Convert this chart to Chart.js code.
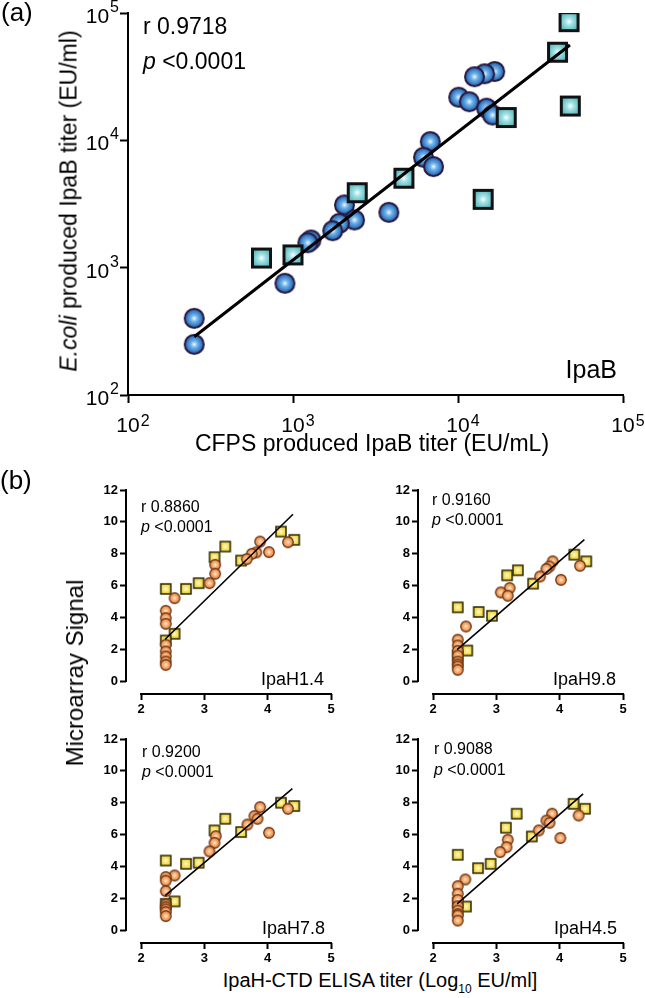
<!DOCTYPE html>
<html>
<head>
<meta charset="utf-8">
<script src="https://cdn.jsdelivr.net/npm/chart.js@4.4.0/dist/chart.umd.min.js"></script>
<style>
  body { margin: 0; background: #fff; }
  #page { position: relative; width: 645px; height: 998px; overflow: hidden;
          font-family: "Liberation Sans", Arial, sans-serif; color: #000; }
  canvas { position: absolute; }
  .t { position: absolute; line-height: 1; white-space: nowrap; color: #000; }
  .rot { transform: translate(-50%, -50%) rotate(-90deg); }
  .ctr { transform: translateX(-50%); }
</style>
</head>
<body>
<div id="page">
  <canvas id="ca" width="645" height="470" style="left:0;top:0"></canvas>
  <canvas id="c1" width="260" height="240" style="left:80px;top:478px"></canvas>
  <canvas id="c2" width="260" height="240" style="left:372px;top:478px"></canvas>
  <canvas id="c3" width="260" height="240" style="left:80px;top:727px"></canvas>
  <canvas id="c4" width="260" height="240" style="left:372px;top:727px"></canvas>

  <div class="t" style="left:1px;top:-1px;font-size:26px">(a)</div>
  <div class="t" style="left:143px;top:15px;font-size:23px">r 0.9718</div>
  <div class="t" style="left:143px;top:50px;font-size:23px"><i>p</i> &lt;0.0001</div>
  <div class="t" style="right:28px;top:357px;font-size:25px">IpaB</div>
  <div class="t ctr" style="left:372px;top:432px;font-size:23px">CFPS produced IpaB titer (EU/mL)</div>
  <div class="t rot" style="left:69px;top:201px;font-size:23px"><i>E.coli</i> produced IpaB titer (EU/ml)</div>

  <div class="t" style="left:0;top:467px;font-size:26px">(b)</div>
  <div class="t rot" style="left:75px;top:673px;font-size:24px">Microarray Signal</div>
  <div class="t ctr" style="left:380px;top:970px;font-size:20px">IpaH-CTD ELISA titer (Log<span style="font-size:12px;position:relative;top:6px;color:#000">10</span> EU/ml]</div>

  <div class="t" style="left:141px;top:499px;font-size:16px">r 0.8860</div>
  <div class="t" style="left:141px;top:519px;font-size:16px"><i>p</i> &lt;0.0001</div>
  <div class="t" style="right:321px;top:670px;font-size:18px">IpaH1.4</div>

  <div class="t" style="left:432px;top:492px;font-size:16px">r 0.9160</div>
  <div class="t" style="left:432px;top:512px;font-size:16px"><i>p</i> &lt;0.0001</div>
  <div class="t" style="right:29px;top:670px;font-size:18px">IpaH9.8</div>

  <div class="t" style="left:142px;top:744px;font-size:16px">r 0.9200</div>
  <div class="t" style="left:142px;top:764px;font-size:16px"><i>p</i> &lt;0.0001</div>
  <div class="t" style="right:320px;top:919px;font-size:18px">IpaH7.8</div>

  <div class="t" style="left:434px;top:741px;font-size:16px">r 0.9088</div>
  <div class="t" style="left:434px;top:762px;font-size:16px"><i>p</i> &lt;0.0001</div>
  <div class="t" style="right:28px;top:919px;font-size:18px">IpaH4.5</div>
</div>

<script>
const FONT = '"Liberation Sans", Arial, sans-serif';

// ---- panel (a): CFPS vs E.coli IpaB titer (EU/ml)
const aTicks = [100, 1000, 10000, 100000];
const aSqX = [47100, 40100, 47900, 19600, 14200, 4700, 2450, 1000, 644];
const aSqY = [85500, 49200, 18600, 15100, 3440, 5040, 3880, 1260, 1190];
const aCiX = [16700, 14500, 12600, 10100, 11700, 14900, 16200, 6790, 6180, 7110,
              3810, 2050, 2360, 1910, 1740, 1285, 1230, 893, 252, 252];
const aCiY = [34700, 33300, 31600, 21800, 20100, 17900, 15800, 9770, 7360, 6220,
              2720, 3110, 2370, 2230, 1950, 1650, 1570, 754, 400, 250];
const aFitX = [252, 47700];
const aFitY = [287, 56100];

// ---- panel (b): ELISA titer (log10) vs microarray signal
const bXTicks = [2, 3, 4, 5];
const bYTicks = [0, 2, 4, 6, 8, 10, 12];

const h14SqX = [4.21, 4.42, 3.33, 3.16, 3.58, 2.91, 2.71, 2.39, 2.53, 2.39];
const h14SqY = [9.39, 8.87, 8.45, 7.78, 7.57, 6.15, 5.79, 5.79, 2.97, 2.55];
const h14CiX = [4.32, 3.88, 4.02, 3.82, 3.75, 3.67, 3.17, 3.17, 3.08, 2.53,
                2.39, 2.39, 2.39, 2.39, 2.39, 2.39, 2.39, 2.39];
const h14CiY = [8.72, 8.76, 8.10, 8.08, 7.99, 7.66, 7.30, 6.74, 6.15, 5.21,
                4.41, 3.95, 3.60, 2.28, 1.86, 1.55, 1.23, 1.02];
const h14FitX = [2.38, 4.40];
const h14FitY = [2.63, 10.48];

const h98SqX = [4.23, 4.42, 3.34, 3.17, 3.58, 2.39, 2.72, 2.93, 2.54, 2.39];
const h98SqY = [7.94, 7.52, 6.96, 6.64, 6.12, 4.63, 4.34, 4.10, 1.92, 1.61];
const h98CiX = [3.89, 3.84, 3.79, 3.69, 4.32, 4.02, 3.21, 3.07, 3.18, 2.52,
                2.39, 2.39, 2.39, 2.39, 2.39, 2.39, 2.39, 2.39];
const h98CiY = [7.52, 7.20, 7.04, 6.57, 7.24, 6.36, 5.84, 5.57, 5.36, 3.43,
                2.60, 2.24, 1.90, 1.60, 1.23, 1.05, 0.92, 0.71];
const h98FitX = [2.38, 4.39];
const h98FitY = [1.97, 8.88];

const h78SqX = [4.21, 4.42, 3.33, 3.16, 3.58, 2.39, 2.71, 2.91, 2.53, 2.39];
const h78SqY = [8.00, 7.79, 6.99, 6.26, 6.16, 4.37, 4.16, 4.23, 1.80, 1.65];
const h78CiX = [3.88, 4.32, 3.79, 3.84, 3.68, 4.02, 3.18, 3.16, 3.08, 2.53,
                2.39, 2.39, 2.39, 2.39, 2.39, 2.39, 2.39, 2.39];
const h78CiY = [7.72, 7.62, 7.16, 6.99, 6.63, 6.11, 5.90, 5.48, 4.94, 3.43,
                3.33, 3.10, 2.45, 1.60, 1.44, 1.30, 1.13, 0.88];
const h78FitX = [2.38, 4.39];
const h78FitY = [2.17, 8.88];

const h45SqX = [4.22, 4.40, 3.32, 3.15, 3.56, 2.39, 2.71, 2.91, 2.52, 2.39];
const h45SqY = [7.93, 7.62, 7.31, 6.43, 5.88, 4.73, 3.89, 4.16, 1.48, 1.71];
const h45CiX = [3.88, 3.79, 3.84, 3.67, 4.30, 4.01, 3.18, 3.16, 3.06, 2.51,
                2.39, 2.39, 2.39, 2.39, 2.39, 2.39, 2.39, 2.39];
const h45CiY = [7.31, 6.88, 6.74, 6.26, 7.20, 5.78, 5.67, 5.21, 4.90, 3.18,
                2.76, 2.28, 1.90, 1.50, 1.23, 1.00, 0.92, 0.60];
const h45FitX = [2.38, 4.37];
const h45FitY = [1.65, 8.56];

const pts = (xs, ys) => xs.map((x, i) => ({ x: x, y: ys[i] }));

// shaded marker sprites (white highlight in the middle)
function sprite(shape, size, lw, stroke, stops) {
  const c = document.createElement('canvas');
  const d = Math.ceil(size + lw + 2);
  c.width = c.height = d;
  const g = c.getContext('2d');
  const m = d / 2, r = size / 2;
  const grad = g.createRadialGradient(m, m, 0, m, m, shape === 'circle' ? r : r * 1.35);
  stops.forEach(s => grad.addColorStop(s[0], s[1]));
  g.fillStyle = grad;
  g.beginPath();
  if (shape === 'circle') g.arc(m, m, r, 0, Math.PI * 2);
  else g.rect(m - r, m - r, size, size);
  g.fill();
  g.lineWidth = lw;
  g.strokeStyle = stroke;
  g.stroke();
  return c;
}

const aCircle = sprite('circle', 19, 2, '#2a1840', [[0, '#f2faff'], [0.35, '#6fb2ea'], [1, '#1a5fae']]);
const aSquare = sprite('square', 18, 3, '#111', [[0, '#ffffff'], [0.3, '#a2e2e4'], [1, '#3ea9b4']]);
const bCircle = sprite('circle', 10.5, 1.3, '#6b3412', [[0, '#fff2e0'], [0.4, '#f8b57e'], [1, '#e9863f']]);
const bSquare = sprite('square', 10, 1.5, '#2b2600', [[0, '#fffce0'], [0.4, '#f8e46a'], [1, '#e6c620']]);

// "10" with a raised exponent for the log axes
const logLabels = {
  id: 'logLabels',
  afterDraw(chart) {
    const { ctx, chartArea } = chart;
    const sx = chart.scales.x, sy = chart.scales.y;
    ctx.save();
    ctx.fillStyle = '#000';
    aTicks.forEach(v => {
      const e = String(Math.round(Math.log10(v)));
      // x axis
      const px = sx.getPixelForValue(v);
      ctx.font = '21px ' + FONT;
      const w = ctx.measureText('10').width;
      ctx.textAlign = 'center';
      ctx.fillText('10', px, chartArea.bottom + 37);
      ctx.font = '16px ' + FONT;
      ctx.textAlign = 'left';
      ctx.fillText(e, px + w / 2 + 1, chartArea.bottom + 31);
      // y axis
      const py = sy.getPixelForValue(v);
      const ew = ctx.measureText(e).width;
      const ex = chartArea.left - 9;
      ctx.textAlign = 'right';
      ctx.fillText(e, ex, py - 1);
      ctx.font = '21px ' + FONT;
      ctx.fillText('10', ex - ew - 1, py + 10);
    });
    ctx.restore();
  }
};

new Chart(document.getElementById('ca'), {
  type: 'scatter',
  data: {
    datasets: [
      { data: pts(aFitX, aFitY), showLine: true, borderColor: '#000', borderWidth: 3, pointRadius: 0, order: 0 },
      { data: pts(aSqX, aSqY), pointStyle: aSquare, pointRadius: 10, order: 1 },
      { data: pts(aCiX, aCiY), pointStyle: aCircle, pointRadius: 10, order: 2 }
    ]
  },
  options: {
    responsive: false,
    animation: false,
    events: [],
    layout: { padding: { left: 0, top: 13, right: 22, bottom: 0 } },
    plugins: { legend: { display: false }, tooltip: { enabled: false } },
    scales: {
      x: {
        type: 'logarithmic', min: 100, max: 100000,
        afterBuildTicks: s => { s.ticks = aTicks.map(v => ({ value: v })); },
        afterFit: s => { s.height = 75; },
        ticks: { display: false },
        grid: { drawOnChartArea: false, tickLength: 8, tickWidth: 2, color: '#000' },
        border: { color: '#000', width: 2 }
      },
      y: {
        type: 'logarithmic', min: 100, max: 100000,
        afterBuildTicks: s => { s.ticks = aTicks.map(v => ({ value: v })); },
        afterFit: s => { s.width = 128; },
        ticks: { display: false },
        grid: { drawOnChartArea: false, tickLength: 8, tickWidth: 2, color: '#000' },
        border: { color: '#000', width: 2 }
      }
    }
  },
  plugins: [logLabels]
});

// GraphPad style axes: lines only over the tick range
const offsetAxes = {
  id: 'offsetAxes',
  afterDraw(chart) {
    const { ctx, chartArea } = chart;
    const sx = chart.scales.x, sy = chart.scales.y;
    ctx.save();
    ctx.strokeStyle = '#000';
    ctx.lineWidth = 2;
    ctx.beginPath();
    ctx.moveTo(sx.getPixelForValue(bXTicks[0]) - 1, chartArea.bottom);
    ctx.lineTo(sx.getPixelForValue(bXTicks[bXTicks.length - 1]) + 1, chartArea.bottom);
    ctx.moveTo(chartArea.left, sy.getPixelForValue(bYTicks[0]) + 1);
    ctx.lineTo(chartArea.left, sy.getPixelForValue(bYTicks[bYTicks.length - 1]) - 1);
    ctx.stroke();
    ctx.restore();
  }
};

function panelB(id, sqX, sqY, ciX, ciY, fitX, fitY) {
  const tickFont = { family: FONT, size: 13, weight: 'bold' };
  const grid = { drawOnChartArea: false, tickLength: 6, tickWidth: 2, color: '#000' };
  new Chart(document.getElementById(id), {
    type: 'scatter',
    data: {
      datasets: [
        { data: pts(fitX, fitY), showLine: true, borderColor: '#000', borderWidth: 1.6, pointRadius: 0, order: 0 },
        { data: pts(ciX, ciY), pointStyle: bCircle, pointRadius: 5, order: 1 },
        { data: pts(sqX, sqY), pointStyle: bSquare, pointRadius: 5, order: 2 }
      ]
    },
    options: {
      responsive: false,
      animation: false,
      events: [],
      layout: { padding: { left: 0, top: 12, right: 9, bottom: 0 } },
      plugins: { legend: { display: false }, tooltip: { enabled: false } },
      scales: {
        x: {
          min: 1.762, max: 5,
          afterBuildTicks: s => { s.ticks = bXTicks.map(v => ({ value: v })); },
          afterFit: s => { s.height = 24; },
          ticks: { font: tickFont, color: '#000', padding: 2 },
          grid: grid,
          border: { display: false }
        },
        y: {
          min: -0.81, max: 12,
          afterBuildTicks: s => { s.ticks = bYTicks.map(v => ({ value: v })); },
          afterFit: s => { s.width = 46; },
          ticks: { font: tickFont, color: '#000', padding: 2 },
          grid: grid,
          border: { display: false }
        }
      }
    },
    plugins: [offsetAxes]
  });
}

panelB('c1', h14SqX, h14SqY, h14CiX, h14CiY, h14FitX, h14FitY);
panelB('c2', h98SqX, h98SqY, h98CiX, h98CiY, h98FitX, h98FitY);
panelB('c3', h78SqX, h78SqY, h78CiX, h78CiY, h78FitX, h78FitY);
panelB('c4', h45SqX, h45SqY, h45CiX, h45CiY, h45FitX, h45FitY);
</script>
</body>
</html>
